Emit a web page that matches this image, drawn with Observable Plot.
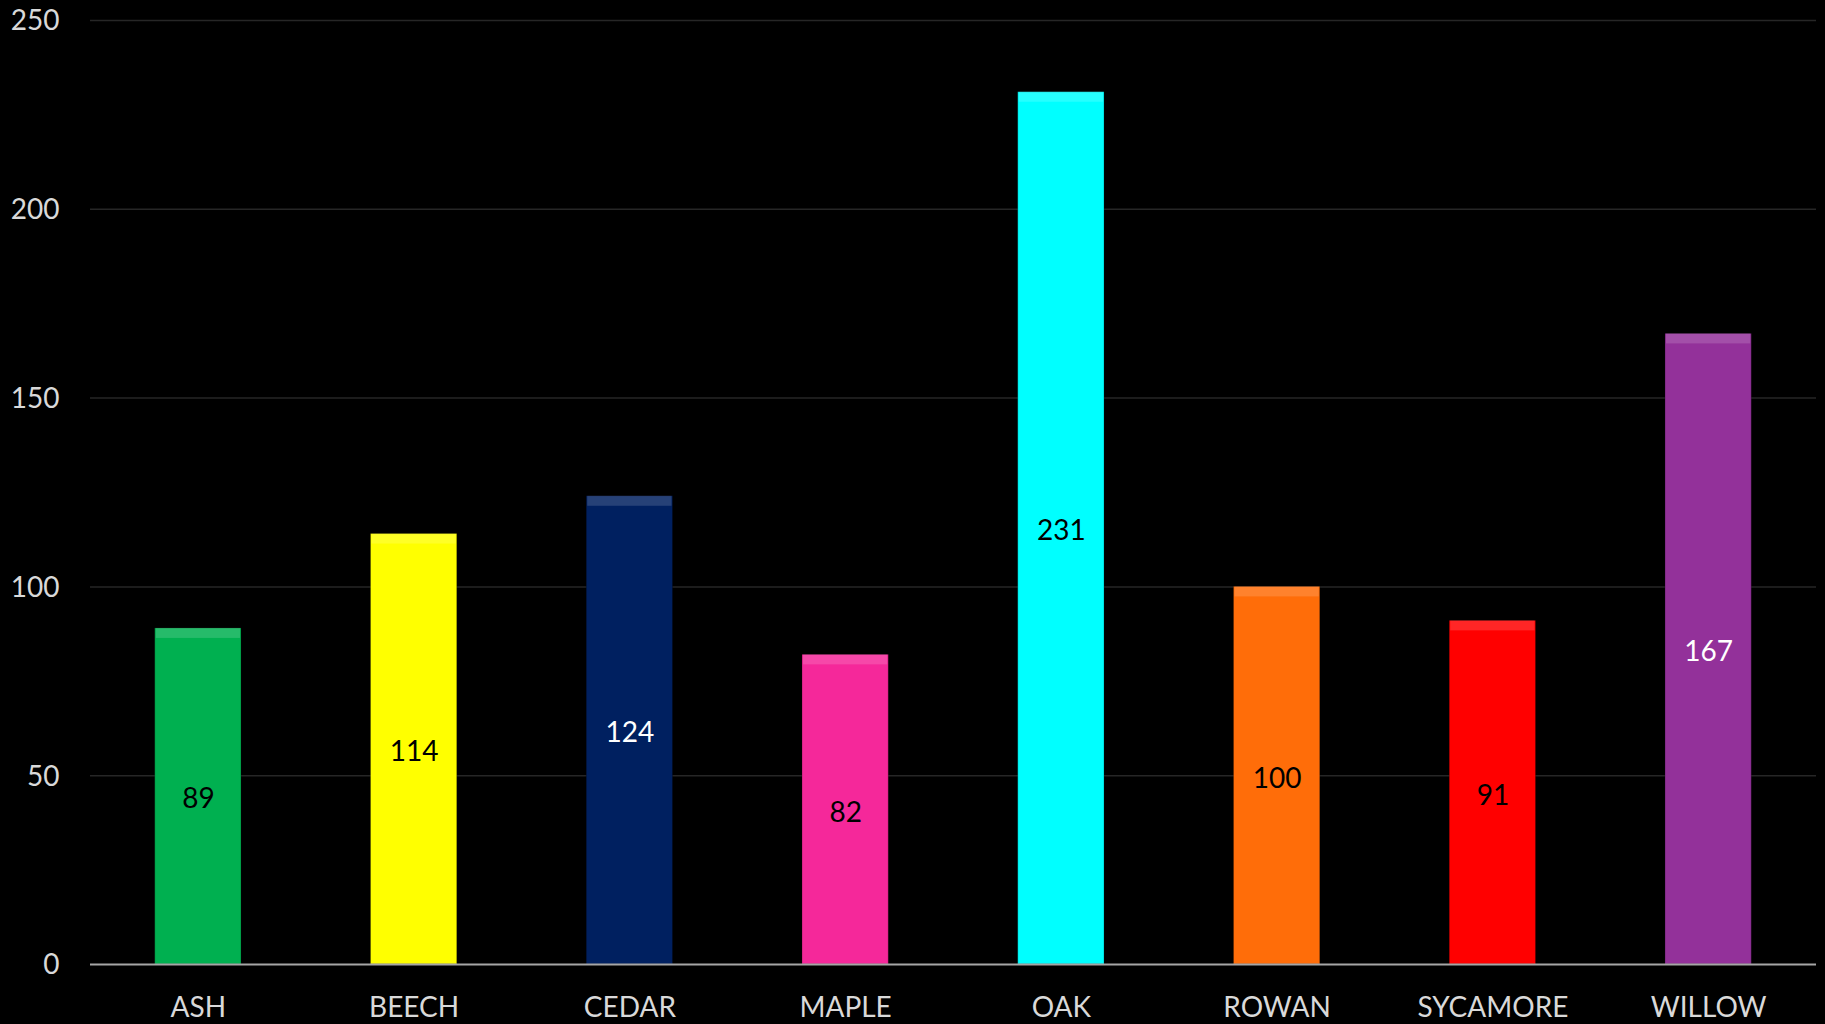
<!DOCTYPE html>
<html>
<head>
<meta charset="utf-8">
<script src="https://cdn.jsdelivr.net/npm/d3@7"></script>
<script src="https://cdn.jsdelivr.net/npm/@observablehq/plot@0.6"></script>
<style>
  html, body { margin: 0; padding: 0; background: #000; overflow: hidden; }
  #chart svg { display: block; }
</style>
</head>
<body>
<div id="chart"></div>
<script>
const categories = ["ASH", "BEECH", "CEDAR", "MAPLE", "OAK", "ROWAN", "SYCAMORE", "WILLOW"];
const values = [89, 114, 124, 82, 231, 100, 91, 167];
const barColors = ["#00b050", "#ffff00", "#002060", "#f5289a", "#00ffff", "#ff6d09", "#ff0000", "#93319a"];
const labelColors = ["#000000", "#000000", "#ffffff", "#000000", "#000000", "#000000", "#000000", "#ffffff"];
const yTicks = [0, 50, 100, 150, 200, 250];

const data = categories.map((name, i) => ({
  name, value: values[i], color: barColors[i], labelColor: labelColors[i]
}));

const font = "Lato, 'Open Sans', sans-serif";

const chart = Plot.plot({
  width: 1825,
  height: 1024,
  marginLeft: 90,
  marginRight: 9,
  marginTop: 20,
  marginBottom: 60,
  style: { background: "#000", fontFamily: font, fontSize: "28px", color: "#d9d9d9" },
  x: { domain: categories, paddingInner: 0.6, paddingOuter: 0.3, round: false, label: null },
  y: { domain: [0, 250], label: null },
  marks: [
    Plot.ruleY(yTicks.filter(d => d > 0), { stroke: "#262626", strokeWidth: 1.5 }),
    Plot.barY(data, { x: "name", y: "value", fill: "color", stroke: "#000", strokeOpacity: 0.25, strokeWidth: 1 }),
    Plot.barY(data, { x: "name", y1: "value", y2: "value", insetBottom: -10, insetLeft: 1, insetRight: 1, fill: "#fff", fillOpacity: 0.15 }),
    Plot.ruleY([0], { stroke: "#a6a6a6", strokeWidth: 2 }),
    Plot.text(data, { x: "name", y: d => d.value / 2, dy: 3, text: d => String(d.value), fill: "labelColor", fontSize: 28, fontFamily: font }),
    Plot.axisY({ ticks: yTicks, tickSize: 0, tickPadding: 31, dy: 1, fontSize: 28, fill: "#d9d9d9", label: null }),
    Plot.axisX({ tickSize: 0, tickPadding: 33, fontSize: 28, fill: "#d9d9d9", label: null })
  ]
});

document.getElementById("chart").appendChild(chart);
</script>
</body>
</html>
